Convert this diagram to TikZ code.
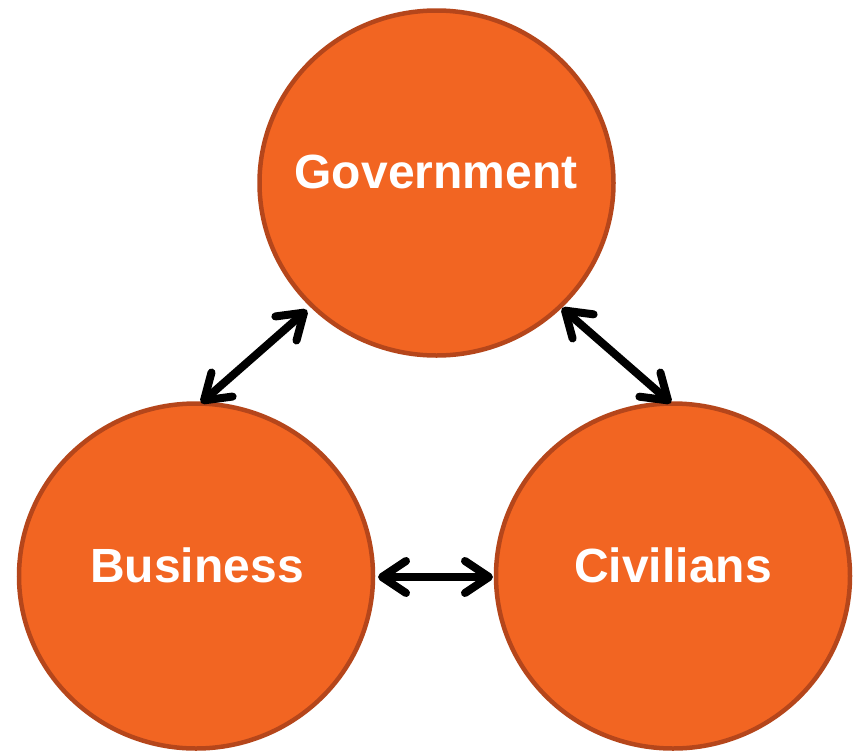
\documentclass[tikz,border=0pt]{standalone}
\usepackage{fontspec}
\setmainfont{Liberation Sans}
\usetikzlibrary{arrows.meta,shapes.geometric}
\definecolor{orfill}{HTML}{F26522}
\definecolor{ordraw}{HTML}{B5461B}
\tikzset{
  party/.style={ellipse, fill=orfill, draw=ordraw, line width=4.5pt,
    minimum width=354pt, minimum height=345pt, inner sep=0pt},
  lbl/.style={text=white, font=\bfseries\fontsize{48}{50}\selectfont},
  tip/.tip={Straight Barb[length=24pt,width=32pt,line width=8pt,round]},
  link/.style={line width=8pt, line cap=round, tip-tip}
}
\begin{document}
\begin{tikzpicture}[x=1pt,y=-1pt]
\useasboundingbox (0,0) rectangle (857,753);
\node[party] (gov) at (436.5,183) {};
\node[party] (bus) at (196,576) {};
\node[party] (civ) at (673,576) {};
\node[lbl] (govt) at (436,172) {Government};
\node[lbl] (bust) at (197,565) {Business};
\node[lbl] (civt) at (673,565) {Civilians};
\coordinate (a1) at (307,310);
\coordinate (a2) at (201,403);
\coordinate (b1) at (562,308);
\coordinate (b2) at (671,403);
\coordinate (c1) at (378,577);
\coordinate (c2) at (493,577);
\draw[link] (a2) -- (a1);
\draw[link] (b1) -- (b2);
\draw[link] (c1) -- (c2);
\end{tikzpicture}
\end{document}
